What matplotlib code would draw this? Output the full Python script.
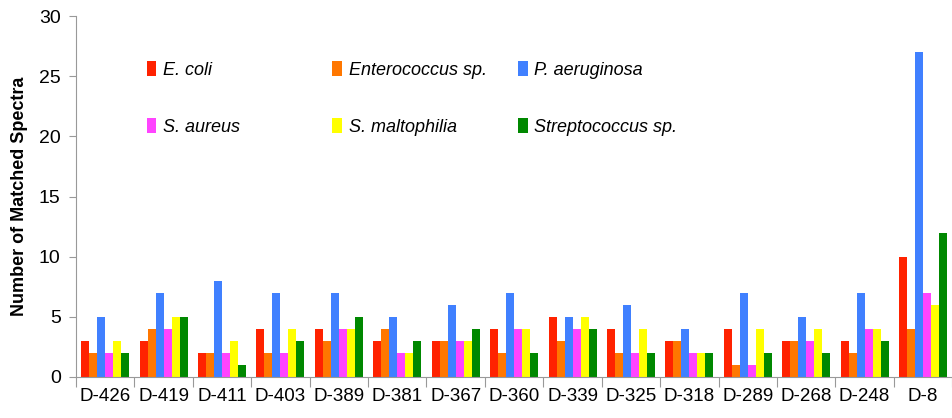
import numpy as np
import matplotlib
matplotlib.use('Agg')
import matplotlib.pyplot as plt
from matplotlib.patches import Patch

plt.rcParams['font.family'] = ['Liberation Sans', 'DejaVu Sans']

# ── Data ──────────────────────────────────────────────────────────────────────
samples = ['D-426', 'D-419', 'D-411', 'D-403', 'D-389', 'D-381', 'D-367', 'D-360',
           'D-339', 'D-325', 'D-318', 'D-289', 'D-268', 'D-248', 'D-8']
species = ['E. coli', 'Enterococcus sp.', 'P. aeruginosa',
           'S. aureus', 'S. maltophilia', 'Streptococcus sp.']

e_coli       = [3, 3, 2, 4, 4, 3, 3, 4, 5, 4, 3, 4, 3, 3, 10]
enterococcus = [2, 4, 2, 2, 3, 4, 3, 2, 3, 2, 3, 1, 3, 2, 4]
p_aeruginosa = [5, 7, 8, 7, 7, 5, 6, 7, 5, 6, 4, 7, 5, 7, 27]
s_aureus     = [2, 4, 2, 2, 4, 2, 3, 4, 4, 2, 2, 1, 3, 4, 7]
s_maltophilia = [3, 5, 3, 4, 4, 2, 3, 4, 5, 4, 2, 4, 4, 4, 6]
streptococcus = [2, 5, 1, 3, 5, 3, 4, 2, 4, 2, 2, 2, 2, 3, 12]

series = [e_coli, enterococcus, p_aeruginosa, s_aureus, s_maltophilia, streptococcus]
colors = ['#FF2200', '#FF7700', '#4080FF', '#FF44FF', '#FFFF00', '#008800']

# ── Figure ────────────────────────────────────────────────────────────────────
fig = plt.figure(figsize=(9.53, 4.18), dpi=100)
ax = fig.add_axes([0.0797, 0.0981, 0.9195, 0.8636])

x = np.arange(len(samples))
width = 0.137
for i, (vals, col) in enumerate(zip(series, colors)):
    ax.bar(x + (i - 2.5) * width, vals, width=width, color=col, linewidth=0)

ax.set_xlim(-0.5, len(samples) - 0.5)
ax.set_ylim(0, 30)
ax.set_yticks(range(0, 31, 5))
ax.tick_params(axis='y', labelsize=14, length=5, color='#999999', pad=6)

# group separators as x ticks, labels centered under groups
ax.set_xticks(np.arange(len(samples) + 1) - 0.5)
ax.set_xticklabels([])
ax.set_xticks(x, minor=True)
ax.set_xticklabels(samples, minor=True, fontsize=13.5)
ax.tick_params(axis='x', which='major', length=7, color='#999999')
ax.tick_params(axis='x', which='minor', length=0, pad=8)

for s in ['top', 'right']:
    ax.spines[s].set_visible(False)
for s in ['left', 'bottom']:
    ax.spines[s].set_color('#999999')

ax.set_ylabel('Number of Matched Spectra', fontsize=13, fontweight='bold', labelpad=8)

# legend: three columns, two rows each
col_x = [0.062, 0.274, 0.486]
for c in range(3):
    handles = [Patch(facecolor=colors[c], linewidth=0),
               Patch(facecolor=colors[c + 3], linewidth=0)]
    leg = ax.legend(handles, [species[c], species[c + 3]],
                    loc='upper left', bbox_to_anchor=(col_x[c], 0.92),
                    frameon=False, handlelength=0.55, handleheight=0.85,
                    handletextpad=0.35, labelspacing=2.2,
                    prop={'style': 'italic', 'size': 13})
    if c < 2:
        ax.add_artist(leg)

plt.savefig('out.png', dpi=100)
plt.close()
